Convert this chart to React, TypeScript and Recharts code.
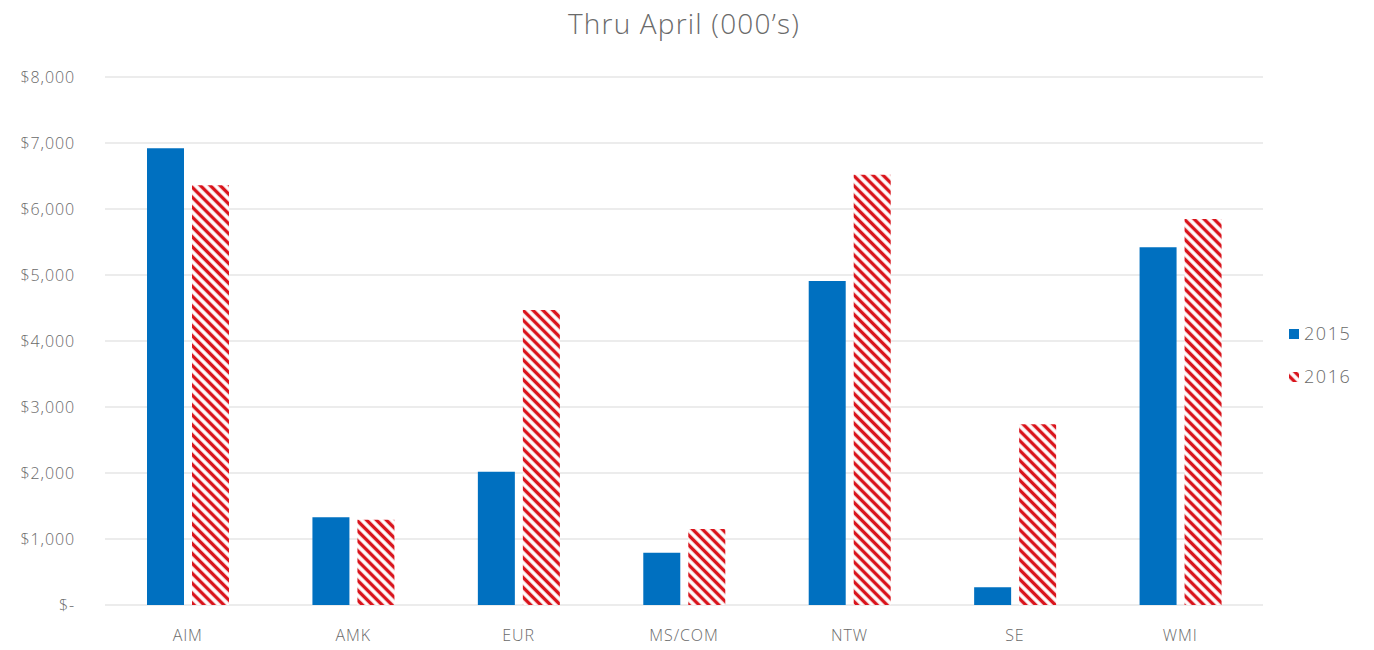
import { BarChart, Bar, XAxis, YAxis, CartesianGrid, Legend } from "recharts";

const categories = ["AIM", "AMK", "EUR", "MS/COM", "NTW", "SE", "WMI"];
const values2015 = [6920, 1330, 2020, 790, 4910, 270, 5420];
const values2016 = [6360, 1290, 4470, 1150, 6520, 2740, 5850];
const yTicks = [0, 1000, 2000, 3000, 4000, 5000, 6000, 7000, 8000];

const data = categories.map((name, i) => ({
  name,
  y2015: values2015[i],
  y2016: values2016[i],
}));

const BLUE = "#0070c0";
const RED = "#d9141c";
const TEXT = "#6a6a6a";
const FONT = "'Open Sans', 'Noto Sans', sans-serif";

const formatMoney = (v: number) => (v === 0 ? "$-" : "$" + v.toLocaleString("en-US"));

const tickStyle = { fill: TEXT, fontSize: 16, fontFamily: FONT, fontWeight: 300, letterSpacing: 0.9 };

function LegendBox() {
  const item = (label: string, swatch: JSX.Element) => (
    <div style={{ display: "flex", alignItems: "center", height: 22, marginBottom: 21 }}>
      <svg width={12} height={12} style={{ marginRight: 4 }}>
        {swatch}
      </svg>
      <span>{label}</span>
    </div>
  );
  return (
    <div style={{ fontFamily: FONT, fontSize: 18, color: TEXT, fontWeight: 300, letterSpacing: 1.6 }}>
      {item("2015", <rect x={1} y={2} width={10} height={10} fill={BLUE} />)}
      {item("2016", <rect x={1} y={2} width={10} height={10} fill="url(#stripes)" />)}
    </div>
  );
}

export default function App() {
  return (
    <div style={{ position: "absolute", left: 0, top: 0, width: 1374, height: 650, background: "#fff" }}>
      <div
        style={{
          position: "absolute",
          left: 0,
          top: 4,
          width: 1368,
          textAlign: "center",
          fontFamily: FONT,
          fontSize: 28,
          color: TEXT,
          fontWeight: 300,
          letterSpacing: 1.2,
          zIndex: 1,
        }}
      >
        Thru April (000’s)
      </div>
      <BarChart
        width={1374}
        height={650}
        data={data}
        margin={{ top: 77, right: 31, bottom: 15, left: 25 }}
        barGap={8}
        barSize={37}
      >
        <defs>
          <pattern id="stripes" patternUnits="userSpaceOnUse" width={7} height={7} patternTransform="rotate(-45)">
            <rect width={7} height={7} fill="#fff" />
            <line x1={3.5} y1={0} x2={3.5} y2={7} stroke={RED} strokeWidth={3.4} />
          </pattern>
        </defs>
        <CartesianGrid vertical={false} stroke="#d9d9d9" />
        <XAxis
          dataKey="name"
          axisLine={false}
          tickLine={false}
          height={30}
          tickMargin={19}
          tick={tickStyle}
        />
        <YAxis
          domain={[0, 8000]}
          ticks={yTicks}
          axisLine={false}
          tickLine={false}
          width={80}
          tickMargin={24}
          tickFormatter={formatMoney}
          tick={tickStyle}
        />
        <Legend
          layout="vertical"
          align="right"
          verticalAlign="top"
          content={() => <LegendBox />}
          wrapperStyle={{ position: "absolute", left: 1288, top: 322, width: 80 }}
        />
        <Bar dataKey="y2015" name="2015" fill={BLUE} isAnimationActive={false} />
        <Bar dataKey="y2016" name="2016" fill="url(#stripes)" isAnimationActive={false} />
      </BarChart>
    </div>
  );
}
